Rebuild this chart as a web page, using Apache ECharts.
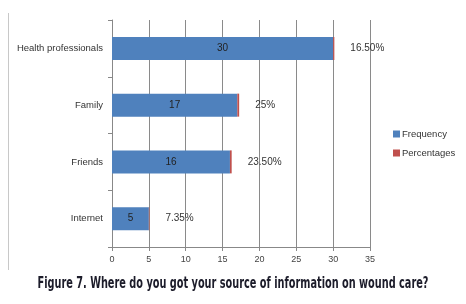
<!DOCTYPE html>
<html>
<head>
<meta charset="utf-8">
<script src="https://cdn.jsdelivr.net/npm/echarts@6/dist/echarts.min.js"></script>
<style>
  html, body { margin: 0; padding: 0; background: #fff; }
  #chart { width: 466px; height: 304px; }
</style>
</head>
<body>
<div id="chart"></div>
<script>
// bottom to top, as drawn
var categories = ['Internet', 'Friends', 'Family', 'Health professionals'];
var frequency = [5, 16, 17, 30];
// percentages stacked as fractions, so they only show as thin red slivers
var percentages = [0.0735, 0.235, 0.25, 0.165];
var percentLabels = ['7.35%', '23.50%', '25%', '16.50%'];
var xTicks = [0, 5, 10, 15, 20, 25, 30, 35];
var caption = 'Figure 7. Where do you got your source of information on wound care?';

var FONT = 'Liberation Sans, Arial, sans-serif';
var CAPTION_FONT = 'bold 15px "DejaVu Sans Condensed", "Liberation Sans", sans-serif';
var BLUE = '#4F81BD';
var RED = '#C0504D';

// squeeze the caption to the narrow width of the original figure caption
var ctx = document.createElement('canvas').getContext('2d');
ctx.font = CAPTION_FONT;
var captionScale = 391 / ctx.measureText(caption).width;

var chart = echarts.init(document.getElementById('chart'), null, { renderer: 'canvas' });

chart.setOption({
  animation: false,
  textStyle: { fontFamily: FONT },
  grid: { left: 112, right: 96, top: 20, bottom: 57 },
  legend: {
    orient: 'vertical',
    left: 388,
    top: 124,
    itemWidth: 7,
    itemHeight: 7,
    itemGap: 9,
    icon: 'rect',
    textStyle: { fontSize: 9.5, color: '#333', fontFamily: FONT, padding: [0, 0, 0, -3] },
    data: ['Frequency', 'Percentages']
  },
  xAxis: {
    type: 'value',
    min: xTicks[0],
    max: xTicks[xTicks.length - 1],
    interval: 5,
    axisLine: { show: true, lineStyle: { color: '#888' } },
    axisTick: { show: true, length: 4, lineStyle: { color: '#888' } },
    axisLabel: { fontSize: 9, color: '#444', margin: 8 },
    splitLine: { show: true, lineStyle: { color: '#8a8a8a', width: 1 } }
  },
  yAxis: {
    type: 'category',
    data: categories,
    axisLine: { show: true, lineStyle: { color: '#888' } },
    axisTick: { show: true, length: 4, lineStyle: { color: '#888' } },
    axisLabel: { fontSize: 9.5, color: '#333', margin: 9 }
  },
  series: [
    {
      name: 'Frequency',
      type: 'bar',
      stack: 'total',
      barWidth: 23,
      data: frequency,
      itemStyle: { color: BLUE },
      label: { show: true, position: 'inside', fontSize: 10, color: '#222' }
    },
    {
      name: 'Percentages',
      type: 'bar',
      stack: 'total',
      barWidth: 23,
      data: percentages,
      itemStyle: { color: RED },
      label: {
        show: true,
        position: 'right',
        distance: 16,
        fontSize: 10,
        color: '#333',
        formatter: function (p) { return percentLabels[p.dataIndex]; }
      }
    }
  ],
  graphic: [
    {
      type: 'line',
      shape: { x1: 8.5, y1: 13, x2: 8.5, y2: 270 },
      style: { stroke: '#c8c8c8', lineWidth: 1 }
    },
    {
      type: 'text',
      x: 233,
      y: 284,
      scaleX: captionScale,
      style: {
        text: caption,
        font: CAPTION_FONT,
        fill: '#1c1c2a',
        align: 'center',
        verticalAlign: 'middle'
      }
    }
  ]
});
</script>
</body>
</html>
